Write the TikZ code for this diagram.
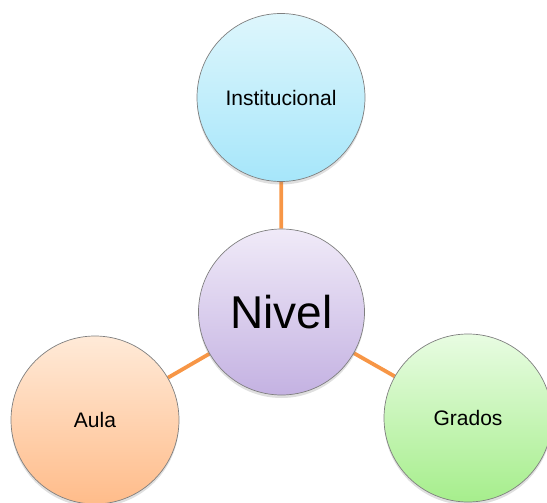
\documentclass[tikz,border=0pt]{standalone}
\usepackage{fontspec}
\setmainfont{Liberation Sans}
\usetikzlibrary{shadows,backgrounds}
\definecolor{linkorange}{HTML}{F79646}
\definecolor{rimgray}{HTML}{7F7F7F}
\tikzset{
  bubble/.style={circle, draw=rimgray, line width=0.7pt, inner sep=0pt,
    minimum size=168pt, font=\fontsize{21pt}{24pt}\selectfont,
    drop shadow={shadow xshift=0pt, shadow yshift=-3pt, opacity=0.25}},
  link/.style={draw=linkorange, line width=3.8pt}
}
\begin{document}
\begin{tikzpicture}[x=1pt,y=-1pt]
\useasboundingbox (0,0) rectangle (547,503);
\node[bubble, top color={rgb,255:red,222;green,246;blue,252}, bottom color={rgb,255:red,166;green,230;blue,250}] (inst) at (281,97.5) {Institucional};
\node[bubble, minimum size=166pt, font=\fontsize{46pt}{50pt}\selectfont, top color={rgb,255:red,240;green,234;blue,248}, bottom color={rgb,255:red,196;green,178;blue,226}] (nivel) at (281.5,312) {Nivel};
\node[bubble, top color={rgb,255:red,255;green,234;blue,216}, bottom color={rgb,255:red,255;green,188;blue,138}] (aula) at (95,420) {Aula};
\node[bubble, top color={rgb,255:red,232;green,252;blue,226}, bottom color={rgb,255:red,166;green,238;blue,140}] (grados) at (468,418) {Grados};
\begin{scope}[on background layer]
\draw[link] (nivel) -- (inst);
\draw[link] (nivel) -- (aula);
\draw[link] (nivel) -- (grados);
\end{scope}
\end{tikzpicture}
\end{document}
